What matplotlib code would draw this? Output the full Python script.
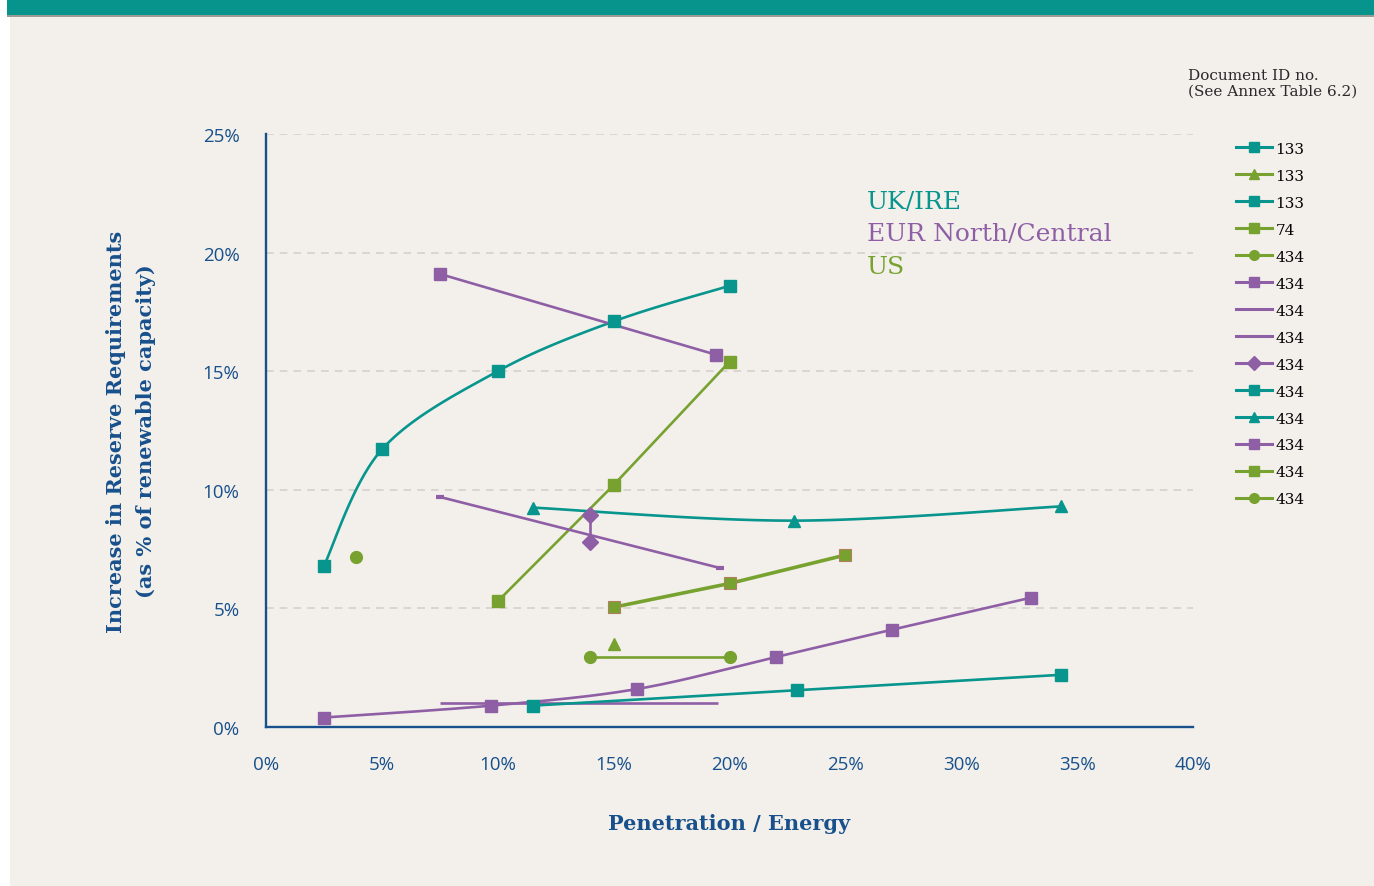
import numpy as np
import matplotlib
matplotlib.use("Agg")
import matplotlib.pyplot as plt
from matplotlib.patches import Rectangle
from matplotlib.ticker import FuncFormatter

TEAL = "#07958d"
PURPLE = "#8f5fa6"
GREEN = "#78a22f"
NAVY = "#17508b"
BG = "#f3f0ec"

# penetration (% of energy) vs increase in reserve requirement (% of RE capacity)
s1_x = [2.5, 5.0, 10.0, 15.0, 20.0]
s1_y = [6.8, 11.7, 15.0, 17.1, 18.6]
s2_x = [15.0]
s2_y = [3.5]
s3_x = []
s3_y = []
s4_x = [10.0, 15.0, 20.0]
s4_y = [5.3, 10.2, 15.4]
s5_x = [3.9]
s5_y = [7.15]
s6_x = [7.5, 19.4]
s6_y = [19.1, 15.7]
s7_x = [7.5, 19.6]
s7_y = [9.7, 6.7]
s8_x = [7.5, 19.5]
s8_y = [1.0, 1.0]
s9_x = [14.0, 14.0]
s9_y = [8.95, 7.8]
s10_x = [11.5, 22.9, 34.3]
s10_y = [0.9, 1.55, 2.2]
s11_x = [11.5, 22.8, 34.3]
s11_y = [9.25, 8.7, 9.3]
s12_x = [2.5, 9.7, 16.0, 22.0, 27.0, 33.0]
s12_y = [0.4, 0.9, 1.6, 2.95, 4.1, 5.45]
s13_x = [15.0, 20.0, 25.0]
s13_y = [5.05, 6.05, 7.25]
s14_x = [14.0, 20.0]
s14_y = [2.95, 2.95]

doc_ids = ["133", "133", "133", "74", "434", "434", "434",
           "434", "434", "434", "434", "434", "434", "434"]

x_ticks = [0, 5, 10, 15, 20, 25, 30, 35, 40]
y_ticks = [0, 5, 10, 15, 20, 25]


def smooth(xs, ys, n=30):
    # cubic bezier segments through the points (Excel style smoothed line)
    p = np.column_stack([xs, ys]).astype(float)
    if len(p) < 3:
        return p[:, 0], p[:, 1]
    ext = np.vstack([p[0], p, p[-1]])
    out = []
    t = np.linspace(0, 1, n)[:, None]
    for i in range(len(p) - 1):
        p0, p1, p2, p3 = ext[i], ext[i + 1], ext[i + 2], ext[i + 3]
        b1 = p1 + (p2 - p0) / 6
        b2 = p2 - (p3 - p1) / 6
        seg = ((1 - t) ** 3) * p1 + 3 * ((1 - t) ** 2) * t * b1 + 3 * (1 - t) * t ** 2 * b2 + t ** 3 * p2
        out.append(seg if i == 0 else seg[1:])
    out = np.vstack(out)
    return out[:, 0], out[:, 1]


series = [
    (s1_x, s1_y, TEAL, "s", True, {}),
    (s2_x, s2_y, GREEN, "^", False, {}),
    (s3_x, s3_y, TEAL, "s", False, {}),
    (s4_x, s4_y, GREEN, "s", False, {}),
    (s5_x, s5_y, GREEN, "o", False, {}),
    (s6_x, s6_y, PURPLE, "s", False, {}),
    (s7_x, s7_y, PURPLE, "_", True, {"ms": 6, "mew": 3}),
    (s8_x, s8_y, PURPLE, None, False, {}),
    (s9_x, s9_y, PURPLE, "D", False, {"ms": 8}),
    (s10_x, s10_y, TEAL, "s", True, {}),
    (s11_x, s11_y, TEAL, "^", True, {}),
    (s12_x, s12_y, PURPLE, "s", True, {}),
    (s13_x, s13_y, GREEN, "s", False, {"mec": "#b0805e", "mew": 0.8, "lw": 2.6}),
    (s14_x, s14_y, GREEN, "o", False, {}),
]

fig = plt.figure(figsize=(13.74, 8.87), dpi=100)
fig.patch.set_facecolor("white")
fig.patches.append(Rectangle((10 / 1374, 0), 1 - 10 / 1374, 1 - 17 / 887,
                             transform=fig.transFigure, facecolor=BG, edgecolor="none", zorder=-10))
fig.patches.append(Rectangle((7 / 1374, 1 - 16 / 887), 1, 16 / 887,
                             transform=fig.transFigure, facecolor="#07948d", edgecolor="none", zorder=-9))
fig.patches.append(Rectangle((7 / 1374, 1 - 17.5 / 887), 1, 1.5 / 887,
                             transform=fig.transFigure, facecolor="#9a9a96", edgecolor="none", zorder=-9))

ax = fig.add_axes([266 / 1374, 1 - 728 / 887, (1193 - 266) / 1374, (728 - 135) / 887])
ax.set_facecolor("none")
ax.set_xlim(0, 40)
ax.set_ylim(0, 25)

handles = []
for (xs, ys, col, mk, sm, kw) in series:
    kw = dict(kw)
    ms = kw.pop("ms", 8.5)
    mec = kw.pop("mec", col)
    lw = kw.pop("lw", 1.9)
    if len(xs) > 0:
        if sm and len(xs) > 2:
            lx, ly = smooth(xs, ys)
        else:
            lx, ly = xs, ys
        ax.plot(lx, ly, color=col, lw=lw, zorder=3, solid_capstyle="butt")
        if mk:
            ax.plot(xs, ys, ls="none", marker=mk, ms=ms, color=col,
                    mec=mec, zorder=4, **kw)
    hl, = ax.plot([], [], color=col, lw=2.2, marker=mk,
                  ms=7 if mk != "_" else 5, mew=1 if mk != "_" else 2)
    handles.append(hl)

ax.set_xticks(x_ticks)
ax.set_yticks(y_ticks)
pct = FuncFormatter(lambda v, p: f"{v:.0f}%")
ax.xaxis.set_major_formatter(pct)
ax.yaxis.set_major_formatter(pct)
ax.tick_params(length=0, labelsize=13.5, labelcolor=NAVY)
ax.tick_params(axis="x", pad=20)
ax.tick_params(axis="y", pad=19)
for lab in ax.get_xticklabels() + ax.get_yticklabels():
    lab.set_family("Open Sans")

ax.grid(axis="y", color="#d2cfcb", ls=(0, (5, 4)), lw=1.1)
ax.set_axisbelow(True)
for s in ["top", "right"]:
    ax.spines[s].set_visible(False)
for s in ["left", "bottom"]:
    ax.spines[s].set_color(NAVY)
    ax.spines[s].set_linewidth(1.7)

ax.set_xlabel("Penetration / Energy", family="DejaVu Serif", fontweight="bold",
              fontsize=15, color=NAVY, labelpad=29)
ax.set_ylabel("Increase in Reserve Requirements\n(as % of renewable capacity)",
              family="DejaVu Serif", fontweight="bold", fontsize=15, color=NAVY,
              labelpad=34, linespacing=1.6)

ax.text(0.648, 0.887, "UK/IRE", transform=ax.transAxes, color=TEAL,
        family="DejaVu Serif", fontsize=18, va="center")
ax.text(0.648, 0.832, "EUR North/Central", transform=ax.transAxes, color=PURPLE,
        family="DejaVu Serif", fontsize=18, va="center")
ax.text(0.648, 0.777, "US", transform=ax.transAxes, color=GREEN,
        family="DejaVu Serif", fontsize=18, va="center")

fig.text(1188 / 1374, 1 - 84 / 887, "Document ID no.\n(See Annex Table 6.2)",
         family="DejaVu Serif", fontsize=11, color="#2a2a2a", va="center",
         linespacing=1.15)

fig.legend(handles, doc_ids, loc="upper left", bbox_to_anchor=(1228 / 1374, 1 - 135 / 887),
           frameon=False, handlelength=2.4, handletextpad=0.2,
           labelspacing=0.85, borderpad=0, prop={"family": "DejaVu Serif", "size": 11})

fig.savefig("out.png", dpi=100, facecolor=fig.get_facecolor())
